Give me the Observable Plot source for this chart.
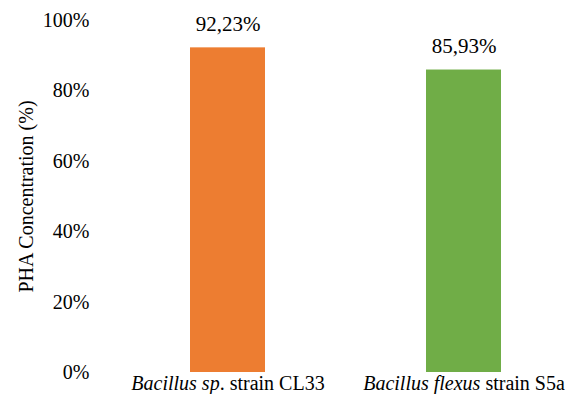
<!DOCTYPE html>
<html>
<head>
<meta charset="utf-8">
<script src="https://cdn.jsdelivr.net/npm/d3@7"></script>
<script src="https://cdn.jsdelivr.net/npm/@observablehq/plot@0.6"></script>
<style>
  html, body { margin: 0; padding: 0; background: #fff; }
  #chart svg { display: block; }
</style>
</head>
<body>
<div id="chart"></div>
<script>
// Strains: italic genus/species part and upright strain part
const strains = ["Bacillus sp. strain CL33", "Bacillus flexus strain S5a"];
const italicParts = ["Bacillus sp", "Bacillus flexus"];
const uprightParts = [". strain CL33", " strain S5a"];
const phaPercent = [92.23, 85.93];
const barColors = ["#ED7D31", "#70AD47"];
const yTicks = [0, 20, 40, 60, 80, 100];

const data = strains.map((s, i) => ({strain: s, value: phaPercent[i], color: barColors[i]}));

// Decimal comma for value labels
const fmt = d3.formatLocale({decimal: ",", thousands: ".", grouping: [3], currency: ["", ""]}).format(".2f");

const serif = "Liberation Serif";
const labelSize = 20;

// Measure both halves of each category label so the pair is centred under its bar
const ctx = document.createElement("canvas").getContext("2d");
function textWidth(str, italic) {
  ctx.font = `${italic ? "italic " : ""}${labelSize}px "${serif}"`;
  return ctx.measureText(str).width;
}

const categoryLabelMarks = strains.flatMap((s, i) => {
  const wi = textWidth(italicParts[i], true);
  const wu = textWidth(uprightParts[i], false);
  const shift = (wi - wu) / 2;
  const common = {x: d => d, frameAnchor: "bottom", lineAnchor: "top", dy: 3,
    fontSize: labelSize, fontFamily: serif, fill: "#000"};
  return [
    Plot.text([s], {...common, text: () => italicParts[i], textAnchor: "end", dx: shift, fontStyle: "italic"}),
    Plot.text([s], {...common, text: () => uprightParts[i], textAnchor: "start", dx: shift})
  ];
});

const chart = Plot.plot({
  width: 570,
  height: 394,
  marginTop: 20,
  marginBottom: 22,
  marginLeft: 95,
  marginRight: 0,
  style: {fontFamily: serif, fontSize: "20px", color: "#000", background: "#fff"},
  x: {type: "band", domain: strains, range: [166, 525], paddingInner: 0.683, paddingOuter: 0.1, axis: null},
  y: {domain: [0, 100]},
  marks: [
    Plot.barY(data, {x: "strain", y: "value", fill: "color"}),
    Plot.text(data, {x: "strain", y: "value", text: d => fmt(d.value) + "%", lineAnchor: "bottom", dy: -17,
      fontSize: 21, fontFamily: serif, fill: "#000"}),
    Plot.axisY({ticks: yTicks, tickSize: 0, tickPadding: 6, tickFormat: d => d + "%", fontSize: 20, fontFamily: serif,
      label: "PHA Concentration (%)", labelAnchor: "center", labelOffset: 77, labelArrow: "none"}),
    ...categoryLabelMarks
  ]
});

document.getElementById("chart").append(chart);
</script>
</body>
</html>
